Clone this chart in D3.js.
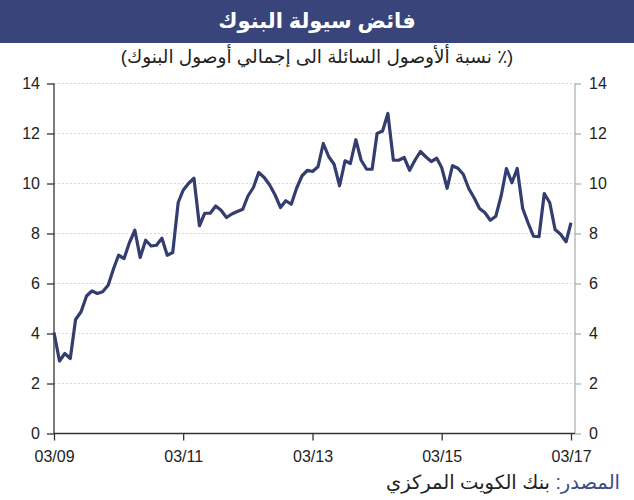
<!DOCTYPE html>
<html lang="ar">
<head>
<meta charset="UTF-8">
<title>فائض سيولة البنوك</title>
<script src="https://cdnjs.cloudflare.com/ajax/libs/d3/7.8.5/d3.min.js"></script>
<style>
  body { margin: 0; background: #fff; }
  svg { display: block; font-family: "Liberation Sans", Arial, "DejaVu Sans", sans-serif; }
  .grid line { stroke: #d8d8d8; stroke-dasharray: 2,2; }
  .tick text { font-size: 16px; fill: #222; }
</style>
</head>
<body>
<script>

// monthly, 03/2009 .. 03/2017
var startMonth = new Date(2009, 2, 1),
    endMonth = new Date(2017, 2, 1);

var liquidity = [
  4.04, 2.9, 3.2, 3.0, 4.56, 4.87, 5.5, 5.7, 5.6, 5.67, 5.93, 6.6,
  7.13, 7.0, 7.63, 8.13, 7.04, 7.73, 7.5, 7.53, 7.81, 7.13, 7.24, 9.24,
  9.73, 10.01, 10.21, 8.31, 8.81, 8.81, 9.1, 8.93, 8.64, 8.78, 8.88, 8.97,
  9.5, 9.84, 10.44, 10.24, 9.95, 9.55, 9.04, 9.31, 9.17, 9.81, 10.31, 10.53,
  10.48, 10.67, 11.6, 11.07, 10.77, 9.91, 10.91, 10.8, 11.75, 10.93, 10.57, 10.57,
  12.0, 12.1, 12.8, 10.93, 10.93, 11.04, 10.53, 10.93, 11.28, 11.07, 10.88, 11.01,
  10.64, 9.81, 10.71, 10.61, 10.37, 9.8, 9.42, 9.0, 8.83, 8.53, 8.69, 9.53,
  10.6, 10.03, 10.6, 9.0, 8.43, 7.89, 7.87, 9.6, 9.23, 8.16, 7.97, 7.67,
  8.43
];

var xTickLabels = ["03/09", "03/11", "03/13", "03/15", "03/17"];
var yTicks = [0, 2, 4, 6, 8, 10, 12, 14];

var titleText = "فائض سيولة البنوك";
// RLM on both ends keeps the whole line one right-to-left run
var subtitleText = "\u200F(٪ نسبة ألأوصول السائلة الى إجمالي أوصول البنوك)\u200F";
var sourceLabel = "المصدر:";
var sourceText = " بنك الكويت المركزي";

var W = 634, H = 500;
var plotL = 54, plotR = 575, plotT = 83.5, plotB = 433.5;

var months = d3.timeMonth.range(startMonth, d3.timeMonth.offset(endMonth, 1));
var data = months.map(function(m, i) { return { date: m, value: liquidity[i] }; });

var svg = d3.select("body").append("svg")
    .attr("width", W)
    .attr("height", H);

// title bar
svg.append("rect")
    .attr("x", 0).attr("y", 0)
    .attr("width", W).attr("height", 43)
    .attr("fill", "#39457a");

svg.append("text")
    .attr("x", W / 2).attr("y", 28)
    .attr("text-anchor", "middle")
    .attr("fill", "#fff")
    .style("font-size", "21px")
    .style("font-weight", "bold")
    .text(titleText);

svg.append("text")
    .attr("x", W / 2).attr("y", 63)
    .attr("text-anchor", "middle")
    .attr("fill", "#222")
    .style("font-size", "18.5px")
    .text(subtitleText);

var x = d3.scaleTime()
    .domain([startMonth, endMonth])
    .range([plotL, 571]);

var y = d3.scaleLinear()
    .domain([0, 14])
    .range([plotB, plotT]);

// gridlines
svg.append("g")
    .attr("class", "grid")
    .selectAll("line")
    .data(yTicks.slice(1))
    .enter().append("line")
    .attr("x1", plotL).attr("x2", plotR)
    .attr("y1", function(d) { return y(d); })
    .attr("y2", function(d) { return y(d); });

// left axis
var yLeft = svg.append("g")
    .attr("transform", "translate(" + plotL + ",0)")
    .call(d3.axisLeft(y).tickValues(yTicks).tickSize(7).tickPadding(7));
yLeft.selectAll("path, line").attr("stroke", "#333").attr("stroke-width", 1.3);
yLeft.select(".domain").attr("d", "M0," + y(0) + "V" + y(14));

// right axis
var yRight = svg.append("g")
    .attr("transform", "translate(" + plotR + ",0)")
    .call(d3.axisRight(y).tickValues(yTicks).tickSize(6).tickPadding(8));
yRight.selectAll("path, line").attr("stroke", "#aaa").attr("stroke-width", 1.2);
yRight.select(".domain").attr("d", "M0," + y(0) + "V" + y(14));

// bottom axis
var xTickDates = xTickLabels.map(function(s) {
  var p = s.split("/");
  return new Date(2000 + (+p[1]), (+p[0]) - 1, 1);
});
var xAxis = svg.append("g")
    .attr("transform", "translate(0," + plotB + ")")
    .call(d3.axisBottom(x).tickValues(xTickDates)
      .tickFormat(function(d, i) { return xTickLabels[i]; })
      .tickSize(7).tickPadding(10));
xAxis.selectAll("path, line").attr("stroke", "#333").attr("stroke-width", 1.3);
xAxis.select(".domain").attr("d", "M" + plotL + ",0H" + plotR);

// line
var line = d3.line()
    .x(function(d) { return x(d.date); })
    .y(function(d) { return y(d.value); });

svg.append("path")
    .datum(data)
    .attr("fill", "none")
    .attr("stroke", "#343d6f")
    .attr("stroke-width", 3.2)
    .attr("stroke-linejoin", "round")
    .attr("d", line);

// source
var src = svg.append("text")
    .attr("x", 620).attr("y", 489)
    .attr("text-anchor", "start")
    .attr("direction", "rtl")
    .style("font-size", "19.5px");
src.append("tspan").attr("fill", "#3b4a8a").text(sourceLabel);
src.append("tspan").attr("fill", "#222").text(sourceText);

</script>
</body>
</html>
